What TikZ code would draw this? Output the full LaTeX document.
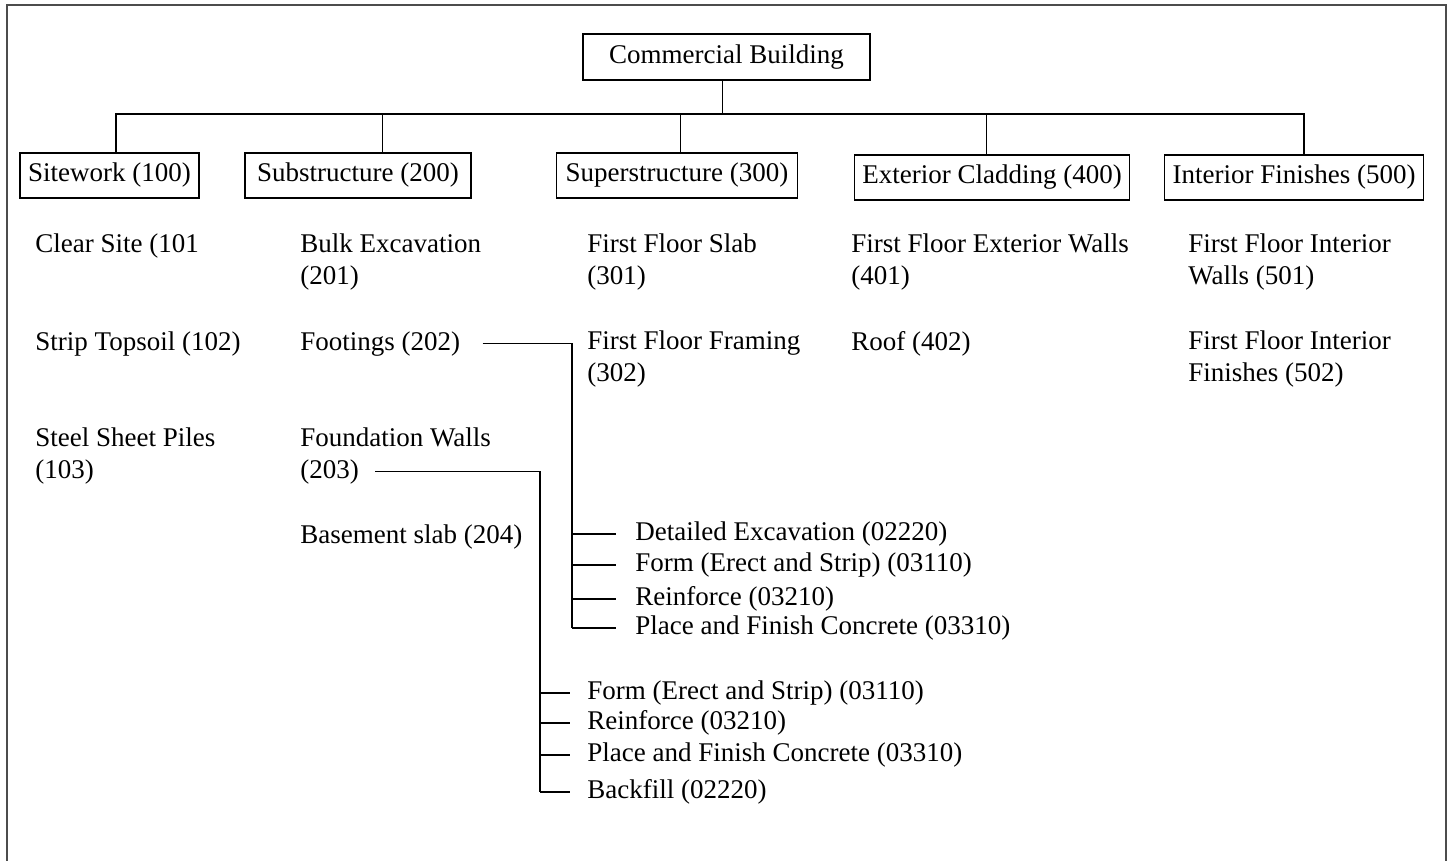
\documentclass[tikz,border=0pt]{standalone}
\usepackage{fontspec}
\setmainfont{Liberation Serif}
\usetikzlibrary{positioning}

\begin{document}
\begin{tikzpicture}[
  x=0.5pt, y=-0.5pt,
  font=\fontsize{13.5}{16}\selectfont,
  wbs/.style={draw, line width=0.7pt, minimum height=22.5pt, inner xsep=4pt, inner ysep=0pt},
  item/.style={anchor=base west, align=left, inner sep=0pt},
  task/.style={anchor=west, inner sep=0pt},
  link/.style={line width=0.65pt}
]
\useasboundingbox (0,0) rectangle (1450,861);
\draw[black!70, line width=0.9pt] (7,861) -- (7,5) -- (1446,5) -- (1446,861);

% top levels
\node[wbs, minimum width=143.5pt, minimum height=23pt] (bldg) at (726.5,57) {Commercial Building};
\node[wbs, minimum width=88.5pt] (site) at (109.5,175.5) {Sitework (100)};
\node[wbs, minimum width=113pt] (sub) at (358,175.5) {Substructure (200)};
\node[wbs, minimum width=120.5pt] (super) at (677,175.5) {Superstructure (300)};
\node[wbs, minimum width=135.5pt] (ext) at (992,177.5) {Exterior Cladding (400)};
\node[wbs, minimum width=127.5pt] (inter) at (1294,177.5) {Interior Finishes (500)};

\coordinate (bus) at (723,114);
\draw[link] ([xshift=-1.9pt]bldg.south) -- ([xshift=-1.9pt]bldg.south |- bus);
\draw[link] ([xshift=3.25pt]site.north) |- ([xshift=5pt]inter.north |- bus) -- ([xshift=5pt]inter.north);
\draw[link] ([xshift=12.35pt]sub.north) -- ([xshift=12.35pt]sub.north |- bus);
\draw[link] ([xshift=1.85pt]super.north) -- ([xshift=1.85pt]super.north |- bus);
\draw[link] ([xshift=-2.65pt]ext.north) -- ([xshift=-2.65pt]ext.north |- bus);

% work packages (base = last line)
\node[item] (clear) at (35,253) {Clear Site (101};
\node[item] (strip) at (35,350) {Strip Topsoil (102)};
\node[item] (piles) at (35,478) {Steel Sheet Piles\\(103)};

\node[item] (bulk) at (300,285) {Bulk Excavation\\(201)};
\node[item] (foot) at (300,350) {Footings (202)};
\node[item] (fwall) at (300,478) {Foundation Walls\\(203)};
\node[item] (bslab) at (300,543) {Basement slab (204)};

\node[item] (slab) at (587,285) {First Floor Slab\\(301)};
\node[item] (frame) at (587,381) {First Floor Framing\\(302)};

\node[item] (extw) at (851,285) {First Floor Exterior Walls\\(401)};
\node[item] (roof) at (851,350) {Roof (402)};

\node[item] (intw) at (1188,285) {First Floor Interior\\Walls (501)};
\node[item] (intf) at (1188,381) {First Floor Interior\\Finishes (502)};

% footings tasks
\node[task] (fa) at (635,534) {Detailed Excavation (02220)};
\node[task] (fb) at (635,565) {Form (Erect and Strip) (03110)};
\node[task] (fc) at (635,599) {Reinforce (03210)};
\node[task] (fd) at (635,628) {Place and Finish Concrete (03310)};

% foundation wall tasks
\node[task] (wa) at (587,693) {Form (Erect and Strip) (03110)};
\node[task] (wb) at (587,723) {Reinforce (03210)};
\node[task] (wc) at (587,755) {Place and Finish Concrete (03310)};
\node[task] (wd) at (587,792) {Backfill (02220)};

\draw[link] ([xshift=11pt]foot.east) -| ([xshift=-31.5pt]fd.west);
\foreach \t in {fa,fb,fc,fd}
  \draw[link] ([xshift=-31.5pt]\t.west) -- ([xshift=-9.5pt]\t.west);

\draw[link] ([shift={(37.5pt,6.5pt)}]fwall.south west) -| ([xshift=-23.5pt]wd.west);
\foreach \t in {wa,wb,wc,wd}
  \draw[link] ([xshift=-23.5pt]\t.west) -- ([xshift=-8.5pt]\t.west);
\end{tikzpicture}
\end{document}
